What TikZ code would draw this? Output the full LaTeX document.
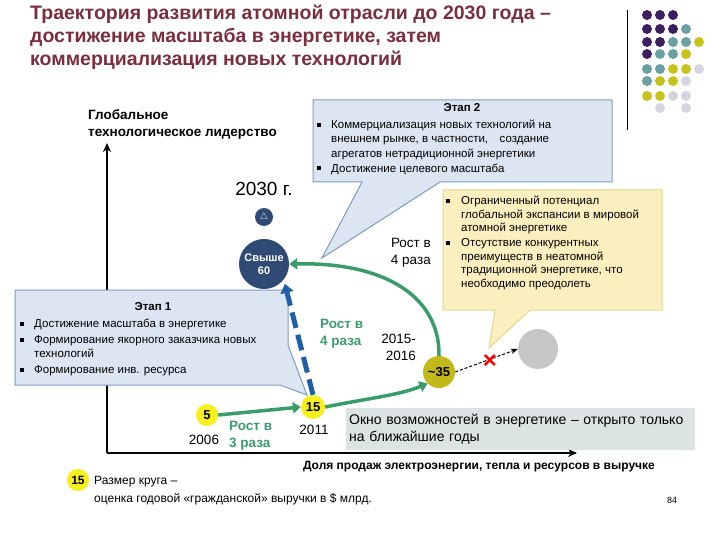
\documentclass[tikz,border=0pt]{standalone}
\usepackage{fontspec}
\setmainfont{Liberation Sans}
\usetikzlibrary{arrows.meta,calc}
\newcommand{\bsq}{\rule[2pt]{4pt}{4pt}}
\definecolor{ttl}{HTML}{7A2E3E}
\definecolor{bbl}{HTML}{DCE6F2}
\definecolor{bbd}{HTML}{7F9CC0}
\definecolor{ybl}{HTML}{FBEFC0}
\definecolor{ybd}{HTML}{E6D68A}
\definecolor{grn}{HTML}{3A9C6B}
\definecolor{navy}{HTML}{2E4A75}
\definecolor{dblue}{HTML}{1F5EA8}
\definecolor{yel}{HTML}{F5F01E}
\definecolor{oliv}{HTML}{C2B81A}
\definecolor{dP}{HTML}{3B1F5E}
\definecolor{dT}{HTML}{6A9FA3}
\definecolor{dY}{HTML}{C8C31C}
\definecolor{dL}{HTML}{D5D5E0}
\definecolor{winc}{HTML}{DCE3E3}
\begin{document}
\begin{tikzpicture}[x=1pt,y=-1pt,
  box/.style={draw=bbd,fill=bbl,line width=1pt},
  ybox/.style={draw=ybd,fill=ybl,line width=1pt},
  txt/.style={font=\fontsize{11.5}{14}\selectfont,align=left,inner sep=0pt},
  hd/.style={font=\bfseries\fontsize{11.5}{14}\selectfont,inner sep=0pt},
  circ/.style={circle,inner sep=0pt,font=\bfseries\fontsize{13}{14}\selectfont},
  garr/.style={draw=grn,line width=3.5pt,-{Triangle[length=8pt,width=11pt]}},
  glab/.style={text=grn,font=\bfseries\fontsize{13.5}{17}\selectfont,align=left,inner sep=0pt},
  plab/.style={font=\fontsize{13.5}{17}\selectfont,align=center,inner sep=0pt},
  dot/.style={circle,inner sep=0pt,minimum size=10pt}]
\useasboundingbox (0,0) rectangle (720,540);
% title
\node[anchor=north west,align=left,text=ttl,font=\bfseries\fontsize{19.5}{23}\selectfont,inner sep=0pt] (title) at (30,5)
 {Траектория развития  атомной отрасли до 2030 года –\\достижение масштаба в энергетике, затем\\коммерциализация  новых  технологий};
\draw[line width=0.8pt] (627,10) coordinate (vl1) -- (627,130) coordinate (vl2);
% dots
\foreach \r/\y/\cols in {1/15/{P,P,P},2/29/{P,P,P,T},3/42/{P,P,T,T,Y},4/54/{P,T,T,Y},5/69/{T,T,Y,Y,L},6/81/{T,Y,Y,L},7/96/{Y,Y,L,L}}{
  \foreach \c [count=\i from 0] in \cols {\node[dot,fill=d\c] (d\r\i) at (647+13*\i,\y) {};}}
\node[dot,fill=dL] (d80) at (660,108) {};
\node[dot,fill=dL] (d81) at (686,108) {};
% axes
\coordinate (O) at (107,453);
\coordinate (ytop) at (107,143);
\coordinate (xend) at (577,453);
\draw[line width=1.8pt,-{Stealth[length=9pt,width=8pt]}] (O) -- (ytop);
\draw[line width=1.8pt,-{Stealth[length=9pt,width=8pt]}] (O) -- (xend);
\node[font=\bfseries\fontsize{12}{13}\selectfont,anchor=east,inner sep=0pt] (xlab) at (655,467) {Доля продаж электроэнергии, тепла и ресурсов в выручке};
\node[font=\bfseries\fontsize{13.5}{17}\selectfont,anchor=north west,align=left,inner sep=0pt] (ylab) at (88,109) {Глобальное\\технологическое лидерство};
% stage 1 box with tail
\draw[box] (15,290) -- (288,290) -- (288,345) -- (307,395) -- (280,385) -- (15,385) -- cycle;
\node[hd] (h1) at (153,307) {Этап 1};
\node[txt,anchor=north west] (st1) at (20,319) {\makebox[14pt][l]{\bsq}Достижение масштаба в энергетике\\[2pt]
\makebox[14pt][l]{\bsq}Формирование якорного заказчика новых\\
\hspace*{14pt}технологий\\[2pt]
\makebox[14pt][l]{\bsq}Формирование инв. ресурса};
% stage 2 box with tail
\draw[box] (313,100) -- (612,100) -- (612,182) -- (440,182) -- (322,258) -- (362,182) -- (313,182) -- cycle;
\node[hd] (h2) at (462,108) {Этап 2};
\node[txt,anchor=north west,font=\fontsize{11.5}{14.2}\selectfont] (st2) at (317,120) {\makebox[14pt][l]{\bsq}Коммерциализация новых технологий на\\
\hspace*{14pt}внешнем рынке, в частности,\quad создание\\
\hspace*{14pt}агрегатов нетрадиционной энергетики\\[1pt]
\makebox[14pt][l]{\bsq}Достижение целевого масштаба};
% yellow box
\draw[ybox] (443,190) -- (662,190) -- (662,310) -- (530,310) -- (489,348) -- (495,310) -- (443,310) -- cycle;
\node[txt,anchor=north west,font=\fontsize{11.5}{13.6}\selectfont] (yb) at (446,196) {\makebox[15pt][l]{\bsq}Ограниченный потенциал\\
\hspace*{15pt}глобальной экспансии в мировой\\
\hspace*{15pt}атомной энергетике\\[1pt]
\makebox[15pt][l]{\bsq}Отсутствие конкурентных\\
\hspace*{15pt}преимуществ в неатомной\\
\hspace*{15pt}традиционной энергетике, что\\
\hspace*{15pt}необходимо преодолеть};
% window box
\node[fill=winc,anchor=north west,minimum width=349pt,minimum height=42pt,inner sep=3pt,align=left,text width=343pt,font=\fontsize{14}{17}\selectfont] (win) at (346,408) {Окно возможностей в энергетике – открыто только\\на ближайшие годы};
% circles
\node[plab,font=\fontsize{19}{20}\selectfont] (y2030) at (264,189) {2030 г.};
\node[circle,fill=navy,minimum size=18pt,inner sep=0pt,text=white,font=\bfseries\fontsize{9}{9}\selectfont] (logo) at (264,217) {$\triangle$};
\node[circ,fill=navy,minimum size=50pt,text=white,align=center,font=\bfseries\fontsize{11}{13}\selectfont] (c60) at (264,264) {Свыше\\60};
\node[circ,fill=yel,minimum size=24pt] (c15) at (313,407) {15};
\node[circ,fill=yel,minimum size=22pt] (c5) at (207,415) {5};
\node[circ,fill=oliv,minimum size=32pt] (c35) at (439,372) {\textasciitilde35};
\node[circle,fill=gray!45,minimum size=40pt] (cg) at (538,349) {};
% arrows
\draw[dblue,line width=5pt,dash pattern=on 16pt off 7pt,-{Triangle[length=9pt,width=13pt]}] (c15.north) -- ($(c60.south east)+(3,2)$);
\draw[garr] (c5.east) -- (c15.west);
\draw[garr] (c15.east) .. controls (370,398) and (400,395) .. (c35.south west);
\draw[garr] (c35.north) .. controls (440,300) and (390,262) .. (c60.east);
\draw[densely dashed,line width=1pt,-{Stealth[length=7pt]}] (c35.east) -- (cg.west);
\node[text=red,font=\bfseries\fontsize{24}{24}\selectfont,inner sep=0pt] (xmark) at (490,362) {×};
% labels
\node[glab,anchor=north west] (g1) at (320,319) {Рост в\\4 раза};
\node[glab,anchor=north west] (g2) at (229,421) {Рост в\\3 раза};
\node[plab,anchor=north east,align=right] (r4) at (431,238) {Рост в\\4 раза};
\node[plab,anchor=north east,align=right] (y15) at (416,334) {2015-\\2016};
\node[plab] (y06) at (204,440) {2006};
\node[plab] (y11) at (314,430) {2011};
% legend
\node[circ,fill=yel,minimum size=22pt,font=\bfseries\fontsize{12}{12}\selectfont] (lg) at (78,480) {15};
\node[txt,anchor=north west,font=\fontsize{12}{18}\selectfont] (lgt) at (94,476) {Размер круга –\\оценка годовой  «гражданской»  выручки в \$ млрд.};
\node[font=\fontsize{9}{9}\selectfont] (pg) at (672,500) {84};
\end{tikzpicture}
\end{document}
